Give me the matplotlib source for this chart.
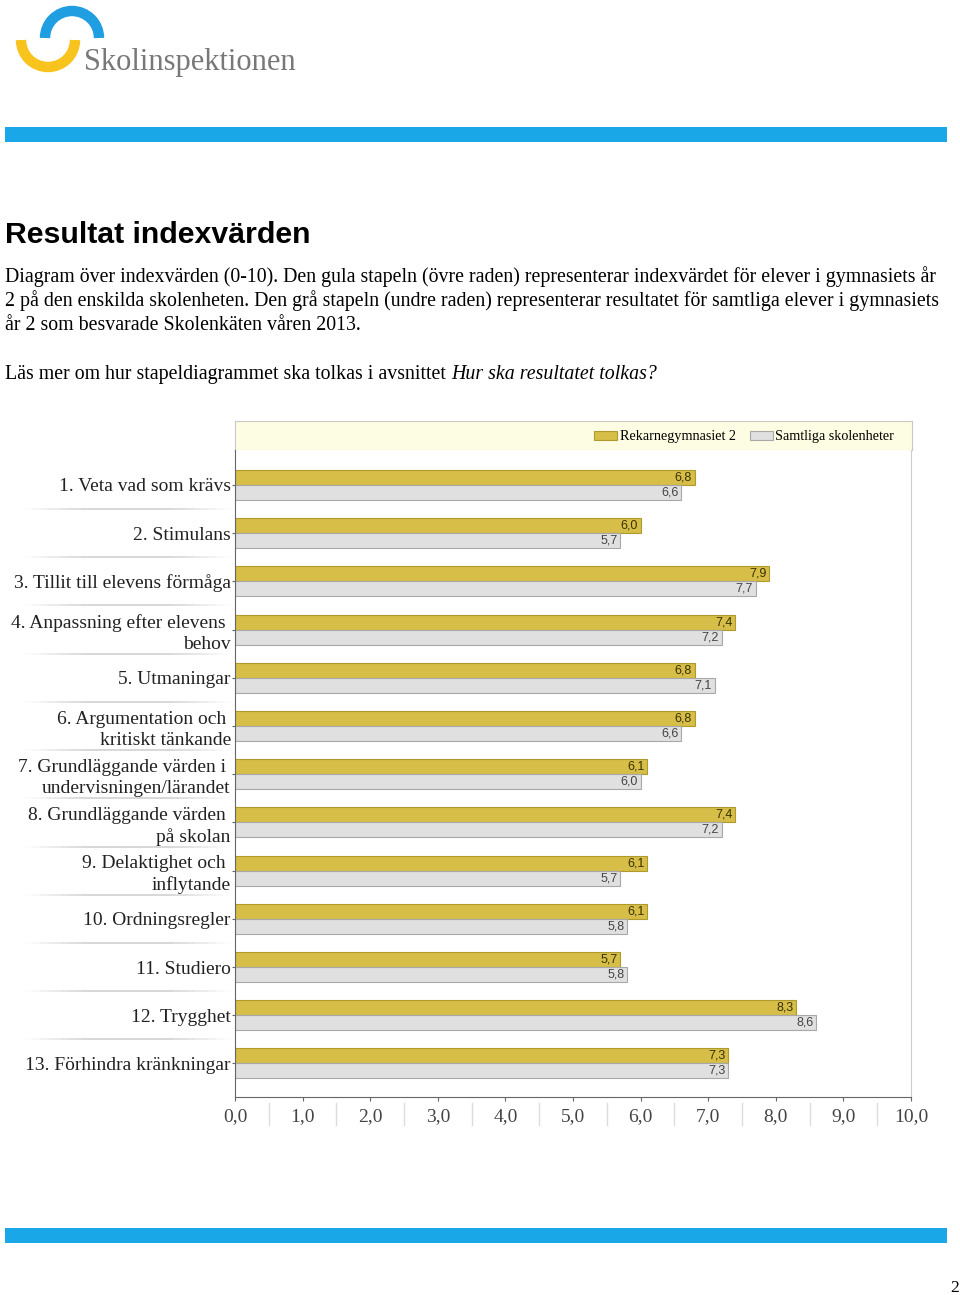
import matplotlib
matplotlib.use("Agg")
import matplotlib.pyplot as plt
from matplotlib.patches import Arc, Rectangle
import numpy as np

# chart data
categories = [
    "1. Veta vad som krävs",
    "2. Stimulans",
    "3. Tillit till elevens förmåga",
    "4. Anpassning efter elevens \nbehov",
    "5. Utmaningar",
    "6. Argumentation och \nkritiskt tänkande",
    "7. Grundläggande värden i \nundervisningen/lärandet",
    "8. Grundläggande värden \npå skolan",
    "9. Delaktighet och \ninflytande",
    "10. Ordningsregler",
    "11. Studiero",
    "12. Trygghet",
    "13. Förhindra kränkningar",
]
school = [6.8, 6.0, 7.9, 7.4, 6.8, 6.8, 6.1, 7.4, 6.1, 6.1, 5.7, 8.3, 7.3]
all_units = [6.6, 5.7, 7.7, 7.2, 7.1, 6.6, 6.0, 7.2, 5.7, 5.8, 5.8, 8.6, 7.3]
series_names = ["Rekarnegymnasiet 2", "Samtliga skolenheter"]
xticks = np.arange(0, 11)

SERIF = ["Liberation Serif", "DejaVu Serif"]
SANS = ["Liberation Sans", "DejaVu Sans"]
YELLOW = "#d6be48"
GREY = "#e0e0e0"

W, H = 960, 1295
fig = plt.figure(figsize=(W / 100, H / 100), dpi=100)

def px_axes(x0, y0, x1, y1):
    return fig.add_axes([x0 / W, 1 - y1 / H, (x1 - x0) / W, (y1 - y0) / H])

def fmt(v):
    return f"{v:.1f}".replace(".", ",")

# page layer in pixel coordinates
page = fig.add_axes([0, 0, 1, 1])
page.set_xlim(0, W)
page.set_ylim(H, 0)
page.axis("off")

# logo
page.add_patch(Arc((48, 40), 54, 54, theta1=0, theta2=180, color="#f7c31c", lw=7.5))
page.add_patch(Arc((72, 38), 54, 54, theta1=180, theta2=360, color="#1f9ee2", lw=7.5))
page.text(84, 70, "Skolinspektionen", family=SERIF, fontsize=22, color="#787878", va="baseline")

# blue bands
page.add_patch(Rectangle((5, 127), 942, 15, color="#1aa7e8", lw=0))
page.add_patch(Rectangle((5, 1228), 942, 15, color="#1aa7e8", lw=0))

page.text(5, 243, "Resultat indexvärden", family=SANS, fontsize=21.8, weight="bold", va="baseline")
lines = [
    "Diagram över indexvärden (0-10). Den gula stapeln (övre raden) representerar indexvärdet för elever i gymnasiets år",
    "2 på den enskilda skolenheten. Den grå stapeln (undre raden) representerar resultatet för samtliga elever i gymnasiets",
    "år 2 som besvarade Skolenkäten våren 2013.",
]
for k, s in enumerate(lines):
    page.text(5, 282 + 24 * k, s, family=SERIF, fontsize=14.3, va="baseline")
t = page.text(5, 379, "Läs mer om hur stapeldiagrammet ska tolkas i avsnittet ", family=SERIF,
              fontsize=14.3, va="baseline")
fig.canvas.draw()
bb = t.get_window_extent()
page.text(5 + bb.width, 379, "Hur ska resultatet tolkas?", family=SERIF, fontsize=14.3,
          style="italic", va="baseline")
page.text(955, 1292, "2", family=SERIF, fontsize=12.5, ha="center", va="baseline")

# legend header
hdr = px_axes(235, 421, 912, 450)
hdr.set_facecolor("#fdfde3")
hdr.set_xticks([])
hdr.set_yticks([])
for sp in hdr.spines.values():
    sp.set_color("#c8c8c8")

# chart
ax = px_axes(235, 450, 911, 1097)
y = np.arange(len(categories))
h = 0.31
b1 = ax.barh(y - h / 2, school, height=h, color=YELLOW, edgecolor="#b09a2c", lw=0.8)
b2 = ax.barh(y + h / 2, all_units, height=h, color=GREY, edgecolor="#a8a8a8", lw=0.8)
for yy, v in zip(y, school):
    ax.annotate(fmt(v), (v, yy - h / 2), xytext=(-2, 0), textcoords="offset points",
                ha="right", va="center", family=SANS, fontsize=9, color="#3a3200")
for yy, v in zip(y, all_units):
    ax.annotate(fmt(v), (v, yy + h / 2), xytext=(-2, 0), textcoords="offset points",
                ha="right", va="center", family=SANS, fontsize=9, color="#444444")

ax.set_xlim(0, 10)
ax.set_ylim(12.697, -0.726)
ax.set_yticks(y)
ax.set_yticklabels(categories, family=SERIF, fontsize=14, color="#222222")
for lab in ax.get_yticklabels():
    lab.set_linespacing(1.32)
ax.set_xticks(xticks)
ax.set_xticklabels([fmt(v) for v in xticks], family=SERIF, fontsize=14, color="#444444")
ax.tick_params(axis="y", length=2, color="#666666", pad=1)
ax.tick_params(axis="x", length=3, color="#666666", pad=5)
ax.spines["top"].set_visible(False)
ax.spines["left"].set_color("#666666")
ax.spines["bottom"].set_color("#666666")
ax.spines["right"].set_color("#cccccc")

# separators between category labels
ytr = ax.get_yaxis_transform()
xs = np.linspace(-0.31, -0.008, 30)
for yy in y[:-1] + 0.5:
    for k in range(len(xs) - 1):
        a = min(1.0, 1.2 * np.sin(np.pi * (k + 0.5) / (len(xs) - 1)))
        ax.plot(xs[k:k + 2], [yy, yy], transform=ytr, clip_on=False, color="#d4d4d4", lw=1.3, alpha=a,
                solid_capstyle="butt")

# separators between x tick labels
xtr = ax.get_xaxis_transform()
for xx in xticks[:-1] + 0.5:
    ax.plot([xx, xx], [-0.01, -0.044], transform=xtr, clip_on=False, color="#dddddd", lw=1)

fig.legend([b1, b2], series_names, loc="center right", bbox_to_anchor=(900 / W, 1 - 437 / H), ncol=2,
           frameon=False, prop={"family": SERIF, "size": 10.2}, handlelength=1.6, handleheight=0.7,
           handletextpad=0.2, columnspacing=1.0, borderaxespad=0)

fig.savefig("out.png", dpi=100)
